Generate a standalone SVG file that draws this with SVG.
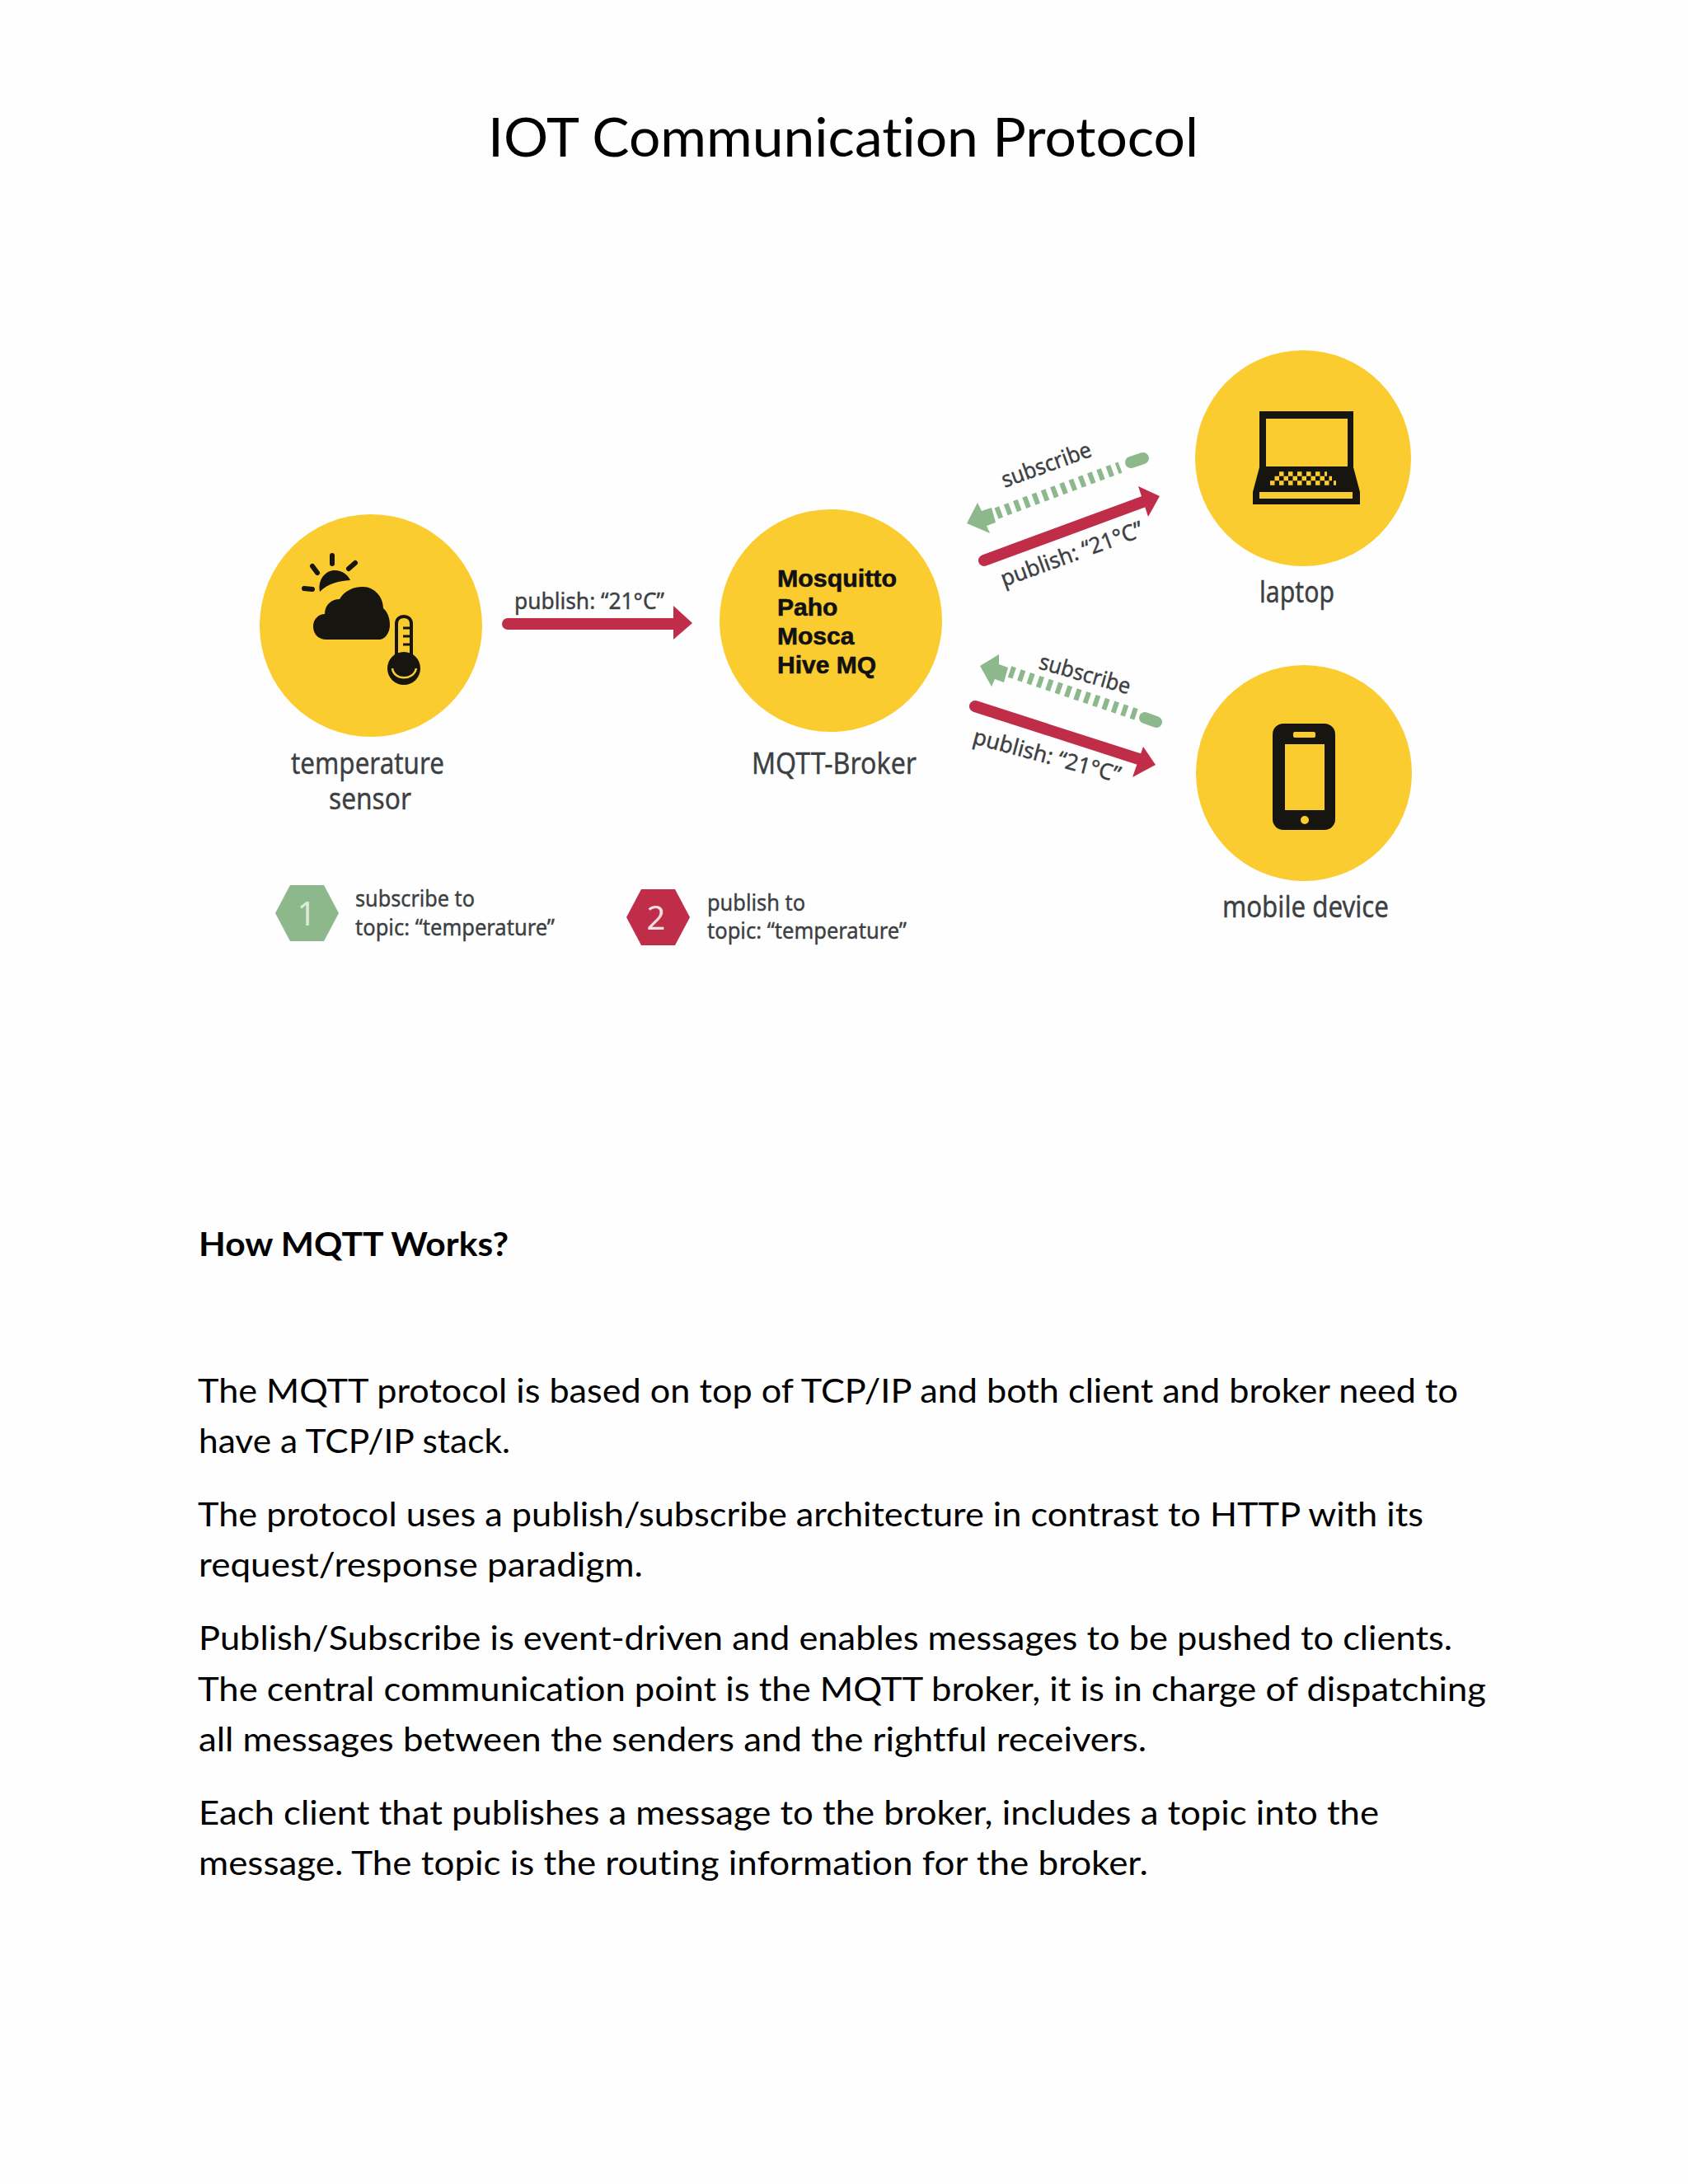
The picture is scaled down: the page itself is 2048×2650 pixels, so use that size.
<svg xmlns="http://www.w3.org/2000/svg" width="2048" height="2650" viewBox="0 0 2048 2650">
<style>
.doc{font-family:Lato,"Liberation Sans",sans-serif;font-size:41px;fill:#000;font-variant-ligatures:none}
.lbl{font-family:"Noto Sans","Open Sans",sans-serif;fill:#3c4043;stroke:#3c4043;stroke-width:.4px}
.big{font-size:36px}
.sm{font-size:27px}
.brk{font-family:"Liberation Sans",Arial,sans-serif;font-weight:bold;font-size:30px;fill:#111;stroke:#111;stroke-width:.6px}
.yel{fill:#fbcc30}
.ink{fill:#17150f}
.red{stroke:#c02d49;stroke-width:14;stroke-linecap:round;fill:none}
.redh{fill:#c02d49}
.grn{stroke:#8cb88c;stroke-width:14;fill:none;stroke-dasharray:6 6}
.grc{stroke:#8cb88c;stroke-width:14;stroke-linecap:round;fill:none}
.grh{fill:#8cb88c}
</style>
<rect width="2048" height="2650" fill="#fefefe"/>
<g id="title"><text class="doc" x="592" y="190" style="font-size:66px" textLength="862" lengthAdjust="spacingAndGlyphs">IOT Communication Protocol</text></g>

<g id="sensor">
<circle class="yel" cx="450" cy="759" r="135"/>
<g stroke="#17150f" stroke-width="6" stroke-linecap="round" fill="none">
<path d="M403 674V684M379 687L385 695M431 683L423 690M369 714L379 715"/>
</g>
<path class="ink" d="M388 718C385 702 396 692 406 692C415 692 422 697 425 704C410 705 398 708 388 718Z"/>
<path class="ink" d="M396 776C385 776 380 768 380 760C380 751 387 745 394 745C394 734 402 727 412 727C418 716 430 712 440 712C455 712 465 725 465 738C470 742 473 750 473 758C473 768 467 776 460 776Z"/>
<path d="M481 757C481 751 485 748 490 748C495 748 499 751 499 757V795H481Z" fill="#fbcc30" stroke="#17150f" stroke-width="4"/>
<path d="M489 762H497M489 772H497M489 782H497" stroke="#17150f" stroke-width="3"/>
<circle class="ink" cx="490" cy="811" r="20"/>
<path d="M476 811C478 826 502 826 505 811" fill="none" stroke="#fbcc30" stroke-width="2.500"/>
<text class="lbl big"><tspan x="353" y="939" textLength="186" lengthAdjust="spacingAndGlyphs">temperature</tspan><tspan x="399" y="982" textLength="100" lengthAdjust="spacingAndGlyphs">sensor</tspan></text>
</g>

<g id="broker">
<circle class="yel" cx="1008" cy="753" r="135"/>
<text class="brk" x="943" y="712" textLength="145" lengthAdjust="spacingAndGlyphs">Mosquitto</text>
<text class="brk" x="943" y="747">Paho</text>
<text class="brk" x="943" y="782">Mosca</text>
<text class="brk" x="943" y="817">Hive MQ</text>
<text class="lbl big" x="912" y="939" textLength="200" lengthAdjust="spacingAndGlyphs">MQTT-Broker</text>
</g>

<g id="laptop">
<circle class="yel" cx="1581" cy="556" r="131"/>
<path class="ink" d="M1528 499H1642V567L1650 597V612H1520V597L1528 567Z"/>
<rect class="yel" x="1536" y="508" width="99" height="58"/>
<rect class="yel" x="1528" y="597" width="113" height="8"/>
<g stroke="#fbcc30" stroke-width="5.500" stroke-dasharray="5.500 5.500" fill="none">
<path d="M1552 575H1610M1546.500 580.500H1616M1541 586H1621"/>
</g>
<text class="lbl big" x="1528" y="731" textLength="91" lengthAdjust="spacingAndGlyphs">laptop</text>
</g>

<g id="mobile">
<circle class="yel" cx="1582" cy="938" r="131"/>
<rect class="ink" x="1544" y="878" width="76" height="129" rx="13"/>
<rect class="yel" x="1559" y="903" width="48" height="80"/>
<rect class="yel" x="1569" y="888" width="27" height="7" rx="2"/>
<circle class="yel" cx="1583" cy="995" r="5"/>
<text class="lbl big" x="1483" y="1113" textLength="202" lengthAdjust="spacingAndGlyphs">mobile device</text>
</g>

<g id="connectors">
<path class="red" d="M616 757H825"/>
<polygon class="redh" points="817,735 840,756 817,776"/>
<path class="grc" d="M1372 561L1387 556"/>
<path class="grn" d="M1209 623L1359 567"/>
<polygon class="grh" points="1173,635 1186,610 1191,620 1203,616 1208,634 1197,638 1201,647"/>
<path class="red" d="M1194 680L1392 607"/>
<polygon class="redh" points="1381,590 1407,602 1393,627"/>
<path class="grc" d="M1389 871L1403 876"/>
<path class="grn" d="M1225 815L1379 867"/>
<polygon class="grh" points="1189,808 1212,794 1212,806 1223,810 1218,828 1207,824 1203,833"/>
<path class="red" d="M1183 857L1388 923"/>
<polygon class="redh" points="1387,906 1402,928 1374,943"/>
</g>

<g id="connector-labels">
<text class="lbl sm" x="624" y="739" textLength="182" lengthAdjust="spacingAndGlyphs">publish: “21°C”</text>
<text class="lbl sm" transform="translate(1219 592) rotate(-20)" textLength="114" lengthAdjust="spacingAndGlyphs">subscribe</text>
<text class="lbl sm" transform="translate(1218 712) rotate(-20)" textLength="182" lengthAdjust="spacingAndGlyphs">publish: “21°C”</text>
<text class="lbl sm" transform="translate(1259 811) rotate(16)" textLength="114" lengthAdjust="spacingAndGlyphs">subscribe</text>
<text class="lbl sm" transform="translate(1179 902) rotate(15)" textLength="184" lengthAdjust="spacingAndGlyphs">publish: “21°C”</text>
</g>

<g id="legend-1">
<polygon class="grh" points="334,1108 352,1074 393,1074 411,1108 393,1142 352,1142"/>
<text x="372" y="1123" text-anchor="middle" style="font-family:'Noto Sans',sans-serif;font-size:40px;fill:#dcebd9">1</text>
<text class="lbl sm" x="431" y="1100" textLength="145" lengthAdjust="spacingAndGlyphs">subscribe to</text>
<text class="lbl sm" x="431" y="1135" textLength="242" lengthAdjust="spacingAndGlyphs">topic: “temperature”</text>
</g>
<g id="legend-2">
<polygon class="redh" points="760,1113 778,1079 819,1079 837,1113 819,1147 778,1147"/>
<text x="796" y="1128" text-anchor="middle" style="font-family:'Noto Sans',sans-serif;font-size:40px;fill:#f6dfe2">2</text>
<text class="lbl sm" x="858" y="1105" textLength="119" lengthAdjust="spacingAndGlyphs">publish to</text>
<text class="lbl sm" x="858" y="1139" textLength="242" lengthAdjust="spacingAndGlyphs">topic: “temperature”</text>
</g>

<g id="body">
<text class="doc" x="241" y="1524" font-weight="bold" textLength="376" lengthAdjust="spacingAndGlyphs">How MQTT Works?</text>
<text class="doc" x="240" y="1702" textLength="1529" lengthAdjust="spacingAndGlyphs">The MQTT protocol is based on top of TCP/IP and both client and broker need to</text>
<text class="doc" x="241" y="1763" textLength="378" lengthAdjust="spacingAndGlyphs">have a TCP/IP stack.</text>
<text class="doc" x="240" y="1852" textLength="1487" lengthAdjust="spacingAndGlyphs">The protocol uses a publish/subscribe architecture in contrast to HTTP with its</text>
<text class="doc" x="241" y="1913" textLength="539" lengthAdjust="spacingAndGlyphs">request/response paradigm.</text>
<text class="doc" x="241" y="2002" textLength="1521" lengthAdjust="spacingAndGlyphs">Publish/Subscribe is event-driven and enables messages to be pushed to clients.</text>
<text class="doc" x="240" y="2064" textLength="1563" lengthAdjust="spacingAndGlyphs">The central communication point is the MQTT broker, it is in charge of dispatching</text>
<text class="doc" x="241" y="2125" textLength="1150" lengthAdjust="spacingAndGlyphs">all messages between the senders and the rightful receivers.</text>
<text class="doc" x="241" y="2214" textLength="1432" lengthAdjust="spacingAndGlyphs">Each client that publishes a message to the broker, includes a topic into the</text>
<text class="doc" x="241" y="2275" textLength="1152" lengthAdjust="spacingAndGlyphs">message. The topic is the routing information for the broker.</text>
</g>
</svg>
